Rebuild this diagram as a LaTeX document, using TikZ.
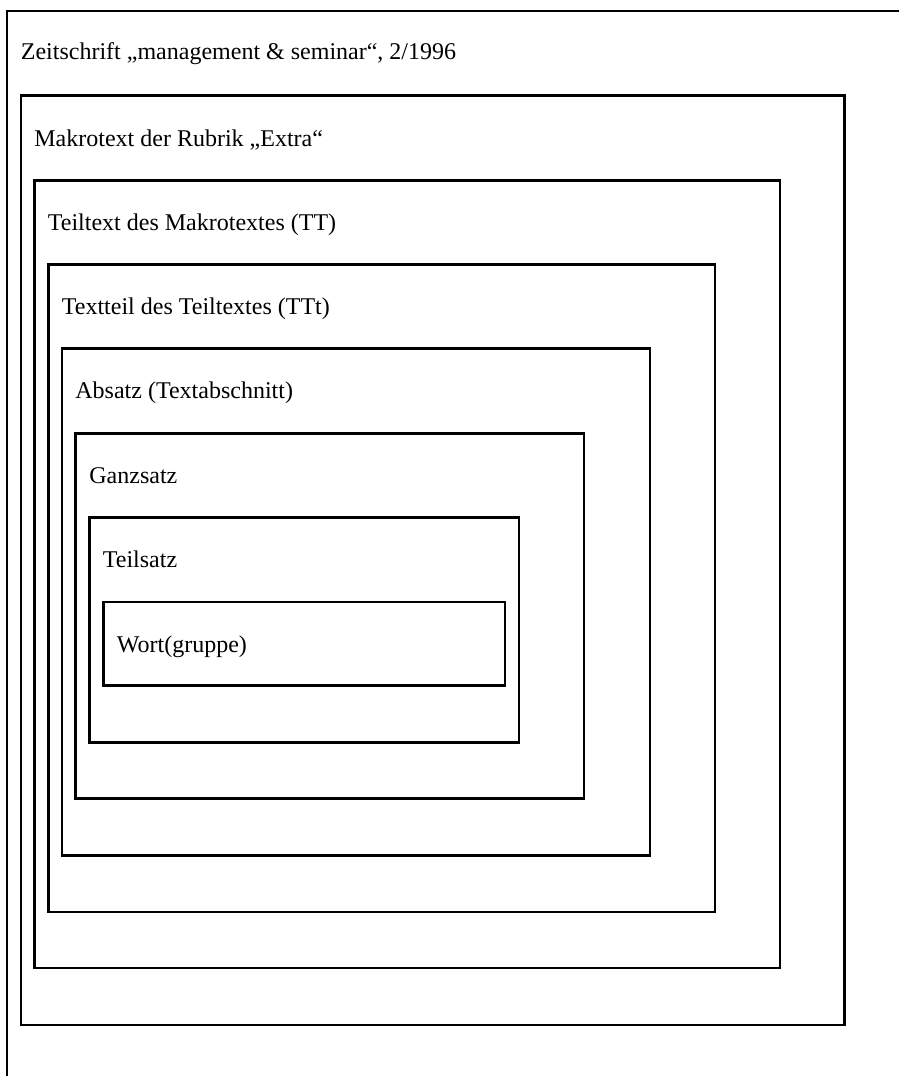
\documentclass[tikz,border=0pt]{standalone}
\usepackage{fontspec}
\setmainfont{Liberation Serif}
\begin{document}
\begin{tikzpicture}[x=0.5pt,y=-0.5pt,
  frame/.style={draw=black,line width=1.2pt},
  label/.style={anchor=base west,inner sep=0pt,font=\fontsize{12pt}{14pt}\selectfont}]
\useasboundingbox (0,0) rectangle (899,1076);

% outermost frame, running off the page to the right and bottom
\coordinate (outerTR) at (899,11);
\coordinate (outerTL) at (7,11);
\coordinate (outerBL) at (7,1076);
\draw[frame] (outerBL) -- (outerTL) -- (outerTR);
\node[label] (zeit) at (20.5,59.5) {Zeitschrift „management \& seminar“, 2/1996};

% nested levels
\draw[frame] (21,95.5) rectangle (844.5,1025);
\node[label] (makro) at (34,146) {Makrotext der Rubrik „Extra“};

\draw[frame] (34.5,180.5) rectangle (780,968);
\node[label] (tt) at (47.5,230.5) {Teiltext des Makrotextes (TT)};

\draw[frame] (48.5,264.5) rectangle (715,912);
\node[label] (ttt) at (61.5,314.5) {Textteil des Teiltextes (TTt)};

\draw[frame] (62,348.5) rectangle (650,855.5);
\node[label] (absatz) at (75,398.5) {Absatz (Textabschnitt)};

\draw[frame] (75.5,433.5) rectangle (584,798.5);
\node[label] (ganz) at (89,483.5) {Ganzsatz};

\draw[frame] (89.5,517.5) rectangle (519,742.5);
\node[label] (teil) at (102.5,567.5) {Teilsatz};

\draw[frame] (103.5,602) rectangle (505,685.5);
\node[label] (wort) at (116.5,652) {Wort(gruppe)};
\end{tikzpicture}
\end{document}
